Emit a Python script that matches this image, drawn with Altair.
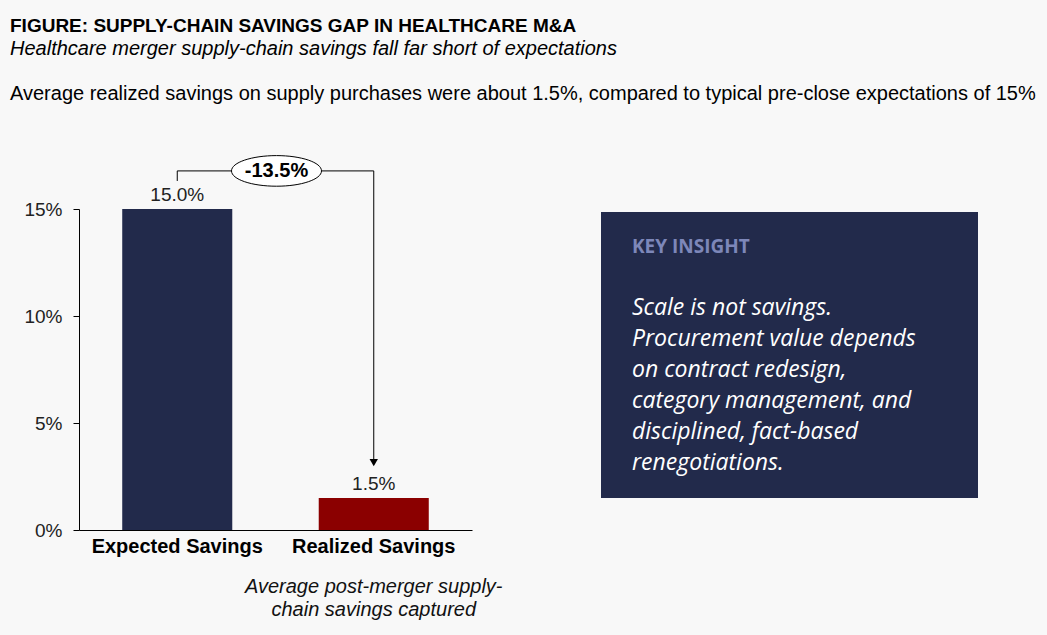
import altair as alt
import pandas as pd

# Savings data (percent of supply spend)
categories = ["Expected Savings", "Realized Savings"]
savings = [15.0, 1.5]
bar_colors = ["#222a4b", "#8b0000"]
gap = savings[1] - savings[0]

title_text = "FIGURE: SUPPLY-CHAIN SAVINGS GAP IN HEALTHCARE M&A"
subtitle_text = "Healthcare merger supply-chain savings fall far short of expectations"
note_text = ("Average realized savings on supply purchases were about 1.5%, "
             "compared to typical pre-close expectations of 15%")
caption_lines = ["Average post-merger supply-", "chain savings captured"]
insight_head = "KEY INSIGHT"
insight_lines = [
    "Scale is not savings.",
    "Procurement value depends",
    "on contract redesign,",
    "category management, and",
    "disciplined, fact-based",
    "renegotiations.",
]

W, H = 393, 321
FONT = "Liberation Sans"
NARROW = "Liberation Sans Narrow, Arial Narrow, Liberation Sans"
BOX_FONT = "Open Sans"

bars_df = pd.DataFrame({"cat": categories, "val": savings,
                        "label": [f"{v:.1f}%" for v in savings]})

x_enc = alt.X("cat:N", sort=categories, title=None,
              scale=alt.Scale(paddingInner=0.44, paddingOuter=0.22),
              axis=alt.Axis(labelAngle=0, labelFont=FONT, labelFontSize=20,
                            labelFontWeight="bold", labelColor="#000",
                            labelPadding=6, ticks=False, domainColor="#000",
                            domainWidth=1.2))
y_scale = alt.Scale(domain=[0, 15], nice=False)

base = alt.Chart(bars_df)

bars = base.mark_bar().encode(
    x=x_enc,
    y=alt.Y("val:Q", scale=y_scale, title=None,
            axis=alt.Axis(values=[0, 5, 10, 15], labelExpr="datum.value + '%'",
                          grid=False, labelFont=FONT, labelFontSize=19,
                          labelColor="#222", labelPadding=11, tickSize=6,
                          tickColor="#000", domainColor="#000")),
    color=alt.Color("cat:N", sort=categories, legend=None,
                    scale=alt.Scale(domain=categories, range=bar_colors)),
)

value_labels = base.mark_text(font=FONT, fontSize=19, color="#222",
                              baseline="alphabetic", dy=-8).encode(
    x=alt.X("cat:N", sort=categories),
    y=alt.Y("val:Q", scale=y_scale),
    text="label:N",
)

# Bracket from the expected bar over to the realized bar, ending in an arrow
top = savings[0]
bracket_y = top + 1.78
bracket_df = pd.DataFrame({
    "cat": [categories[0], categories[0], categories[1], categories[1]],
    "y": [top + 1.31, bracket_y, bracket_y, savings[1] + 1.55],
    "order": [0, 1, 2, 3],
})
bracket = alt.Chart(bracket_df).mark_line(color="#000", strokeWidth=1).encode(
    x=alt.X("cat:N", sort=categories),
    y=alt.Y("y:Q", scale=y_scale),
    order="order:O",
)
arrow_df = pd.DataFrame({"cat": [categories[1]], "y": [savings[1] + 1.65]})
arrow = alt.Chart(arrow_df).mark_point(shape="triangle-down", filled=True,
                                       color="#000", size=70, opacity=1).encode(
    x=alt.X("cat:N", sort=categories),
    y=alt.Y("y:Q", scale=y_scale),
)

gap_df = pd.DataFrame({"y": [bracket_y], "label": [f"{gap:.1f}%"]})
ellipse = alt.Chart(gap_df).mark_point(
    shape="M -1 0 A 1 0.34 0 1 0 1 0 A 1 0.34 0 1 0 -1 0",
    size=8100, filled=True, fill="#fff", stroke="#000", strokeWidth=1, opacity=1,
).encode(x=alt.value(W / 2 + 1), y=alt.Y("y:Q", scale=y_scale))
gap_label = alt.Chart(gap_df).mark_text(font=FONT, fontSize=20, fontWeight="bold",
                                        color="#000", baseline="middle").encode(
    x=alt.value(W / 2 + 1), y=alt.Y("y:Q", scale=y_scale), text="label:N")

caption_df = pd.DataFrame({"cat": [categories[1]], "t": [caption_lines]})
caption = alt.Chart(caption_df).mark_text(
    font=FONT, fontSize=20, fontStyle="italic", color="#111",
    baseline="alphabetic", lineHeight=23,
).encode(x=alt.X("cat:N", sort=categories), y=alt.value(384), text="t")

# Header texts
title = alt.Chart(pd.DataFrame({"t": [title_text]})).mark_text(
    font=NARROW, fontSize=19, fontWeight="bold", align="left",
    baseline="alphabetic", color="#000").encode(
    x=alt.value(-69), y=alt.value(-177), text="t:N")
sub = alt.Chart(pd.DataFrame({"t": [subtitle_text]})).mark_text(
    font=FONT, fontSize=20, fontStyle="italic", align="left",
    baseline="alphabetic", color="#000").encode(
    x=alt.value(-69), y=alt.value(-154), text="t:N")
note = alt.Chart(pd.DataFrame({"t": [note_text]})).mark_text(
    font=FONT, fontSize=20, align="left", baseline="alphabetic",
    color="#000").encode(x=alt.value(-69), y=alt.value(-109), text="t:N")

# Key insight panel
box = alt.Chart(pd.DataFrame({"a": [0]})).mark_rect(color="#222a4b").encode(
    x=alt.value(522), x2=alt.value(899), y=alt.value(3), y2=alt.value(289))
head = alt.Chart(pd.DataFrame({"t": [insight_head]})).mark_text(
    font=BOX_FONT, fontSize=19, fontWeight="bold", color="#7d87b9",
    align="left", baseline="alphabetic").encode(
    x=alt.value(553), y=alt.value(44), text="t:N")
body = alt.Chart(pd.DataFrame({"t": [insight_lines]})).mark_text(
    font=BOX_FONT, fontSize=23, fontStyle="italic", color="#fff",
    align="left", baseline="alphabetic", lineHeight=31).encode(
    x=alt.value(553), y=alt.value(106), text="t")

chart = alt.layer(
    bars, value_labels, bracket, arrow, ellipse, gap_label, caption,
    title, sub, note, box, head, body,
).properties(
    width=W, height=H,
    padding={"left": 79, "top": 209, "right": 575, "bottom": 105},
    autosize=alt.AutoSizeParams(type="none"),
    background="#f8f8f8",
).configure_view(stroke=None)

chart.save("out.html", embed_options={"renderer": "svg", "actions": False})
